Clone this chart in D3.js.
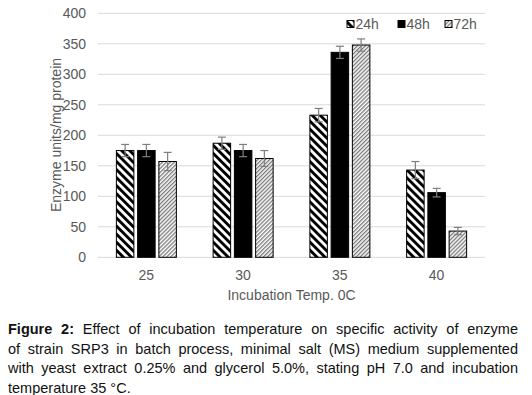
<!DOCTYPE html>
<html>
<head>
<meta charset="utf-8">
<script src="https://cdn.jsdelivr.net/npm/d3@7"></script>
<style>
  body { margin: 0; background: #fff; }
  #wrap { position: relative; width: 532px; height: 395px; overflow: hidden; }
  #caption { position: absolute; left: 8px; top: 320px; width: 510px;
    font-family: "Liberation Sans", Arial, sans-serif; font-size: 14.5px; line-height: 19.5px; color: #111; }
  #caption div { text-align: justify; text-align-last: justify; white-space: nowrap; }
  #caption div.last { text-align-last: left; }
</style>
</head>
<body>
<div id="wrap">
  <svg id="chart" width="532" height="315"></svg>
  <div id="caption"></div>
</div>
<script>
const temps = ["25", "30", "35", "40"];
const series = ["24h", "48h", "72h"];
const values = {
  "24h": [175, 187, 233, 143],
  "48h": [175, 175, 336, 106],
  "72h": [157, 162, 348, 43]
};
const errors = {
  "24h": [10, 10, 11, 14],
  "48h": [10, 10, 10, 7],
  "72h": [15, 13, 10, 6]
};
const yTicks = [0, 50, 100, 150, 200, 250, 300, 350, 400];
const captionLines = [
  "Effect of incubation temperature on specific activity of enzyme",
  "of strain SRP3 in batch process, minimal salt (MS) medium supplemented",
  "with yeast extract 0.25% and glycerol 5.0%, stating pH 7.0 and incubation",
  "temperature 35 °C."
];

const svg = d3.select("#chart");
const font = "'Liberation Sans', Arial, sans-serif";
const plotL = 98, plotR = 485, plotT = 13.3, plotB = 257.3;

const defs = svg.append("defs");
const p1 = defs.append("pattern").attr("id", "p24").attr("patternUnits", "userSpaceOnUse")
  .attr("width", 5.7).attr("height", 5.7).attr("patternTransform", "rotate(-45)");
p1.append("rect").attr("width", 5.7).attr("height", 5.7).attr("fill", "#fff");
p1.append("rect").attr("width", 2.9).attr("height", 5.7).attr("fill", "#000");
const p3 = defs.append("pattern").attr("id", "p72").attr("patternUnits", "userSpaceOnUse")
  .attr("width", 2.8).attr("height", 2.8).attr("patternTransform", "rotate(45)");
p3.append("rect").attr("width", 2.8).attr("height", 2.8).attr("fill", "#fff");
p3.append("rect").attr("width", 1.3).attr("height", 2.8).attr("fill", "#7a7a7a");
const fills = { "24h": "url(#p24)", "48h": "#000", "72h": "url(#p72)" };

const x0 = d3.scaleBand().domain(temps).range([plotL, plotR]);
const groupW = 60;
const x1 = d3.scaleBand().domain(series)
  .range([(x0.bandwidth() - groupW) / 2, (x0.bandwidth() + groupW) / 2]).paddingInner(0.176);
const y = d3.scaleLinear().domain([0, 400]).range([plotB, plotT]);

// gridlines
svg.append("g").selectAll("line").data(yTicks).join("line")
  .attr("x1", plotL).attr("x2", plotR)
  .attr("y1", d => y(d)).attr("y2", d => y(d))
  .attr("stroke", "#d9d9d9").attr("stroke-width", 1);

// y tick labels
svg.append("g").selectAll("text").data(yTicks).join("text")
  .attr("x", 86).attr("y", d => y(d)).attr("dy", "0.35em")
  .attr("text-anchor", "end").attr("font-family", font).attr("font-size", 14)
  .attr("fill", "#595959").text(d => d);

// x tick labels
svg.append("g").selectAll("text").data(temps).join("text")
  .attr("x", d => x0(d) + x0.bandwidth() / 2).attr("y", 275).attr("dy", "0.35em")
  .attr("text-anchor", "middle").attr("font-family", font).attr("font-size", 14)
  .attr("fill", "#595959").text(d => d);

// bars
const groups = svg.append("g").selectAll("g").data(temps).join("g")
  .attr("transform", d => `translate(${x0(d)},0)`);
groups.selectAll("rect").data((d, i) => series.map(s => ({ s, v: values[s][i], e: errors[s][i] })))
  .join("rect")
  .attr("x", d => x1(d.s)).attr("width", x1.bandwidth())
  .attr("y", d => y(d.v)).attr("height", d => plotB - y(d.v))
  .attr("fill", d => fills[d.s]).attr("stroke", "#000").attr("stroke-width", 1);

// error bars
const eb = groups.selectAll("g.err").data((d, i) => series.map(s => ({ s, v: values[s][i], e: errors[s][i] })))
  .join("g").attr("class", "err")
  .attr("stroke", "#7f7f7f").attr("stroke-width", 1.2);
eb.append("line")
  .attr("x1", d => x1(d.s) + x1.bandwidth() / 2).attr("x2", d => x1(d.s) + x1.bandwidth() / 2)
  .attr("y1", d => y(d.v + d.e)).attr("y2", d => y(d.v - d.e));
eb.append("line")
  .attr("x1", d => x1(d.s) + x1.bandwidth() / 2 - 4).attr("x2", d => x1(d.s) + x1.bandwidth() / 2 + 4)
  .attr("y1", d => y(d.v + d.e)).attr("y2", d => y(d.v + d.e));
eb.append("line")
  .attr("x1", d => x1(d.s) + x1.bandwidth() / 2 - 4).attr("x2", d => x1(d.s) + x1.bandwidth() / 2 + 4)
  .attr("y1", d => y(d.v - d.e)).attr("y2", d => y(d.v - d.e));

// axis titles
svg.append("text").attr("transform", "translate(56,135) rotate(-90)")
  .attr("dy", "0.35em").attr("text-anchor", "middle")
  .attr("font-family", font).attr("font-size", 14).attr("fill", "#595959")
  .text("Enzyme units/mg protein");
svg.append("text").attr("x", (plotL + plotR) / 2).attr("y", 295).attr("dy", "0.35em")
  .attr("text-anchor", "middle").attr("font-family", font).attr("font-size", 14)
  .attr("fill", "#595959").text("Incubation Temp. 0C");

// legend
const legX = { "24h": 347, "48h": 398, "72h": 445 };
const leg = svg.append("g").selectAll("g").data(series).join("g")
  .attr("transform", d => `translate(${legX[d]},24)`);
leg.append("rect").attr("x", 0).attr("y", -3.5).attr("width", 7).attr("height", 7)
  .attr("fill", d => fills[d]).attr("stroke", "#000").attr("stroke-width", 1);
leg.append("text").attr("x", 8.5).attr("dy", "0.35em")
  .attr("font-family", font).attr("font-size", 14).attr("fill", "#595959").text(d => d);

// caption
const cap = d3.select("#caption");
captionLines.forEach((t, i) => {
  const div = cap.append("div").attr("class", i === captionLines.length - 1 ? "last" : null)
    .style("white-space", i === captionLines.length - 1 ? "nowrap" : "normal");
  if (i === 0) {
    div.append("b").text("Figure 2:");
    div.append("span").text(" " + t);
  } else {
    div.text(t);
  }
});
</script>
</body>
</html>
